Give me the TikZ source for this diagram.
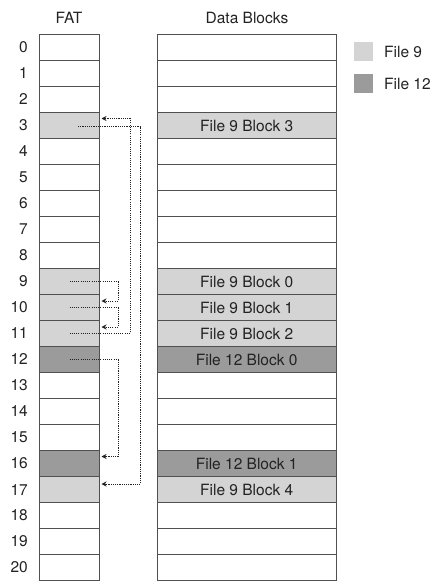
\documentclass[tikz,border=0pt]{standalone}
\usepackage{fontspec}
\setmainfont{TeX Gyre Heros}
\usetikzlibrary{arrows.meta,calc}
\definecolor{lightf}{HTML}{D4D4D4}
\definecolor{darkf}{HTML}{9B9B9B}
\definecolor{edge}{HTML}{505050}
\definecolor{ink}{HTML}{222222}
\tikzset{
  cellbox/.style={draw=edge, line width=0.9pt, minimum height=26pt, inner sep=0pt, outer sep=0pt, text=ink,
    font=\fontsize{15.5}{18}\selectfont},
  fatcell/.style={cellbox, minimum width=60pt},
  datacell/.style={cellbox, minimum width=178.5pt},
  rowlabel/.style={anchor=east, inner sep=0pt, text=ink, font=\fontsize{15.5}{18}\selectfont},
  header/.style={inner sep=0pt, text=ink, font=\fontsize{15.5}{18}\selectfont},
  legbox/.style={minimum width=19pt, minimum height=19pt, inner sep=0pt},
  ptr/.style={draw=ink, line width=1pt, dash pattern=on 1.1pt off 1.1pt, -{Stealth[length=5pt,width=5pt]}},
}
\begin{document}
\begin{tikzpicture}[x=1pt,y=-1pt]
\useasboundingbox (0,0) rectangle (441,583);
\node[header] (hfat) at (69,18) {FAT};
\node[header] (hdata) at (247,18) {Data Blocks};
\foreach \i in {0,...,20}{
  \node[rowlabel] (n\i) at (28,47.5+26*\i) {\i};
  \node[fatcell] (f\i) at (69.5,47.5+26*\i) {};
  \node[datacell] (d\i) at (246.75,47.5+26*\i) {};
}
% shaded cells
\foreach \i in {3,9,10,11,17}{
  \node[fatcell, fill=lightf] at (f\i) {};
}
\foreach \i in {12,16}{
  \node[fatcell, fill=darkf] at (f\i) {};
}
\node[datacell, fill=lightf] at (d3) {File 9 Block 3};
\node[datacell, fill=lightf] at (d9) {File 9 Block 0};
\node[datacell, fill=lightf] at (d10) {File 9 Block 1};
\node[datacell, fill=lightf] at (d11) {File 9 Block 2};
\node[datacell, fill=darkf] at (d12) {File 12 Block 0};
\node[datacell, fill=darkf] at (d16) {File 12 Block 1};
\node[datacell, fill=lightf] at (d17) {File 9 Block 4};
% legend
\node[legbox, fill=lightf] (l9) at (363.7,52) {};
\node[legbox, fill=darkf] (l12) at (363.7,84) {};
\node[header, anchor=west] (t9) at (384,52) {File 9};
\node[header, anchor=west] (t12) at (384,84) {File 12};
% pointers
\draw[ptr] (f9.center) -| ([xshift=18.5pt,yshift=6.5pt]f10.east) -- ([xshift=2pt,yshift=6.5pt]f10.east);
\draw[ptr] (f10.center) -| ([xshift=18.5pt,yshift=6.5pt]f11.east) -- ([xshift=2pt,yshift=6.5pt]f11.east);
\draw[ptr] (f11.center) -| ([xshift=30.5pt,yshift=7pt]f3.east) -- ([xshift=2pt,yshift=7pt]f3.east);
\draw[ptr] ([xshift=8.5pt,yshift=-1pt]f3.center) -| ([xshift=41pt,yshift=5.5pt]f17.east) -- ([xshift=2pt,yshift=5.5pt]f17.east);
\draw[ptr] (f12.center) -| ([xshift=18.5pt,yshift=7pt]f16.east) -- ([xshift=2pt,yshift=7pt]f16.east);
\end{tikzpicture}
\end{document}
